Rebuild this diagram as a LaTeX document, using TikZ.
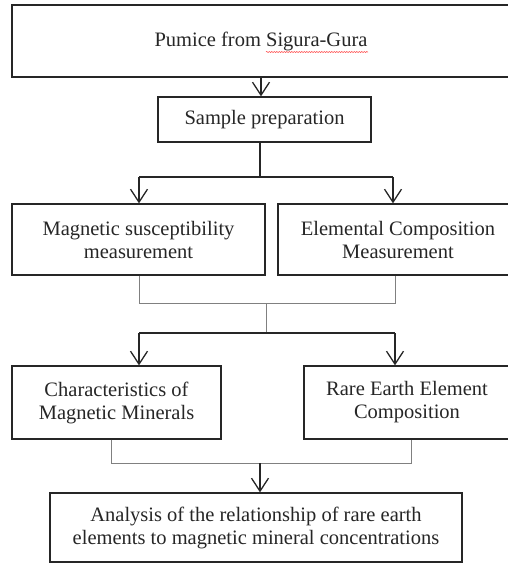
\documentclass[tikz,border=0pt]{standalone}
\usepackage{fontspec}
\setmainfont{Liberation Serif}
\usetikzlibrary{arrows.meta}
\usetikzlibrary{decorations.pathmorphing}

\begin{document}
\begin{tikzpicture}[x=1pt,y=-1pt,
  every node/.style={font=\fontsize{20.5}{23}\selectfont,text=black!85,align=center},
  box/.style={draw=black!85,line width=1.3pt,inner sep=0pt},
  link/.style={draw=black!85,line width=1.3pt},
  flow/.style={link,-{Straight Barb[length=13pt,width=17pt,line width=1.3pt]}},
  tie/.style={draw=black!50,line width=0.9pt}]
\useasboundingbox (0,0) rectangle (507,563);
\node[box,minimum width=498pt,minimum height=72pt] (src) at (261,41) {Pumice from Sigura-Gura};
\node[box,minimum width=213pt,minimum height=45pt] (prep) at (264.5,119.5) {Sample preparation};
\node[box,minimum width=253pt,minimum height=71pt] (mag) at (138.5,239.5) {Magnetic susceptibility\\measurement};
\node[box,minimum width=240pt,minimum height=71pt] (elem) at (398,239.5) {Elemental Composition\\Measurement};
\node[box,minimum width=209pt,minimum height=73pt] (char) at (116.5,402.5) {Characteristics of\\Magnetic Minerals};
\node[box,minimum width=206pt,minimum height=73pt] (rare) at (407,402.5) {Rare Earth Element\\Composition};
\node[box,minimum width=412pt,minimum height=69pt] (anal) at (256,527.5) {Analysis of the relationship of rare earth\\elements to magnetic mineral concentrations};
% spell-check mark
\draw[red!75,line width=0.5pt,decorate,decoration={snake,amplitude=0.6pt,segment length=2.5pt}] (266,52) -- (368,52);
% junctions
\coordinate (fork1) at (260,177);
\coordinate (fork1l) at (139,177);
\coordinate (fork1r) at (393,177);
\coordinate (j1l) at (139,303);
\coordinate (j1r) at (395,303);
\coordinate (meet1) at (266,303);
\coordinate (fork2) at (266,333);
\coordinate (fork2l) at (139,333);
\coordinate (fork2r) at (395,333);
\coordinate (j2l) at (111,463);
\coordinate (j2r) at (411,463);
\coordinate (meet2) at (260,463);
\draw[flow] (src.south) -- (src.south |- prep.north);
\draw[link] (fork1 |- prep.south) -- (fork1);
\draw[link] (fork1l) -- (fork1r);
\draw[flow] (fork1l) -- (fork1l |- mag.north);
\draw[flow] (fork1r) -- (fork1r |- elem.north);
\draw[tie] (j1l |- mag.south) -- (j1l) -- (j1r) -- (j1r |- elem.south);
\draw[tie] (meet1) -- (fork2);
\draw[link] (fork2l) -- (fork2r);
\draw[flow] (fork2l) -- (fork2l |- char.north);
\draw[flow] (fork2r) -- (fork2r |- rare.north);
\draw[tie] (j2l |- char.south) -- (j2l) -- (j2r) -- (j2r |- rare.south);
\draw[flow] (meet2) -- (meet2 |- anal.north);
\end{tikzpicture}
\end{document}
